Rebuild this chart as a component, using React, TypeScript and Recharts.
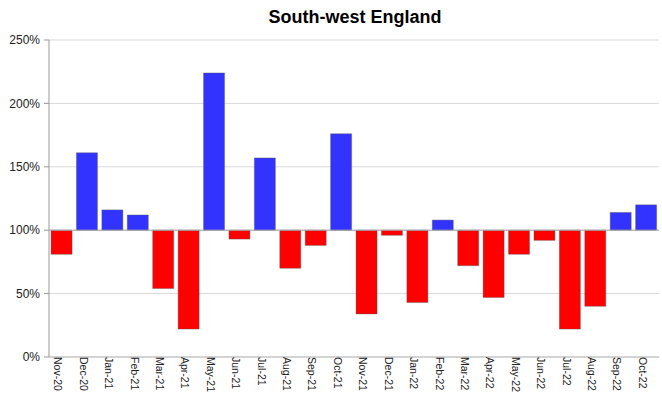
import { Bar, BarChart, CartesianGrid, Cell, ReferenceLine, XAxis, YAxis } from "recharts";

const months: string[] = [
    "Nov-20", "Dec-20", "Jan-21", "Feb-21", "Mar-21", "Apr-21", "May-21", "Jun-21",
    "Jul-21", "Aug-21", "Sep-21", "Oct-21", "Nov-21", "Dec-21", "Jan-22", "Feb-22",
    "Mar-22", "Apr-22", "May-22", "Jun-22", "Jul-22", "Aug-22", "Sep-22", "Oct-22",
];
const values: number[] = [
    81, 161, 116, 112, 54, 22, 224, 93, 157, 70, 88, 176,
    34, 96, 43, 108, 72, 47, 81, 92, 22, 40, 114, 120,
];
const yTicks: number[] = [0, 50, 100, 150, 200, 250];
const baseline = 100;

const data = months.map((month, i) => ({
    month,
    value: values[i],
    range: [baseline, values[i]],
}));

export default function App() {
    return (
        <div style={{ position: "absolute", left: 0, top: 0, width: 662, height: 407, background: "#fff", fontFamily: "'Liberation Sans', Arial, sans-serif" }}>
            <div style={{ position: "absolute", top: 7, left: 0, width: 662, paddingLeft: 48, boxSizing: "border-box", textAlign: "center", fontSize: 18, fontWeight: "bold", color: "#000" }}>
                South-west England
            </div>
            <BarChart
                width={662}
                height={407}
                data={data}
                margin={{ top: 40, right: 3, bottom: 0, left: 0 }}
                barCategoryGap="8%"
            >
                <CartesianGrid vertical={false} stroke="#d9d9d9" />
                <XAxis
                    dataKey="month"
                    interval={0}
                    angle={90}
                    textAnchor="start"
                    height={50}
                    tickLine={false}
                    axisLine={{ stroke: "#bbb" }}
                    tick={{ fontSize: 10.5, fill: "#222", dy: -8, dx: 0 }}
                />
                <YAxis
                    domain={[0, 250]}
                    ticks={yTicks}
                    tickFormatter={(v) => `${v}%`}
                    width={49}
                    tickSize={5}
                    tickMargin={4}
                    tickLine={{ stroke: "#999" }}
                    axisLine={{ stroke: "#999" }}
                    tick={{ fontSize: 12, fill: "#222" }}
                />
                <YAxis yAxisId="right" orientation="right" width={0} tick={false} tickLine={false} axisLine={{ stroke: "#ccc" }} />
                <Bar dataKey="range" isAnimationActive={false} stroke="#555" strokeWidth={0.4}>
                    {data.map((d, i) => (
                        <Cell key={i} fill={d.value >= baseline ? "#3333ff" : "#ff0000"} />
                    ))}
                </Bar>
                <ReferenceLine y={baseline} stroke="#aaa" />
            </BarChart>
        </div>
    );
}
